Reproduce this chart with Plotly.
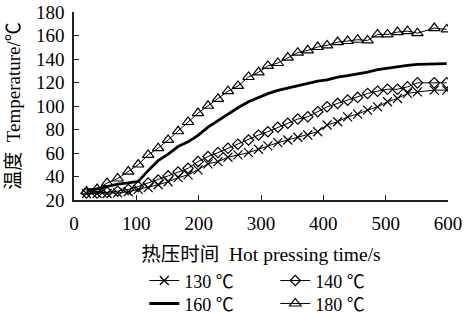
import plotly.graph_objects as go

# Hot pressing time (s)
time_s = [20, 37, 53, 70, 87, 103, 119, 135, 151, 167, 183, 199, 215, 231, 247, 263,
          280, 296, 311, 327, 343, 359, 375, 391, 406, 423, 439, 455, 471, 487, 503,
          519, 535, 551, 578, 598]

# Temperature (℃) for each platen temperature
t130 = [25.5, 25.5, 25.5, 26, 27, 29, 30.5, 33, 35.5, 39, 41.4, 45.7, 50.8, 52.7, 56.4, 58.4,
        60.3, 63.2, 66, 68.8, 71.1, 73.4, 75.3, 78.1, 83.8, 86.6, 90.8, 93.1, 96.5, 99.3, 103.6,
        106.4, 110.7, 112, 113.5, 113.5]
t140 = [26, 26, 26.5, 27.5, 29, 31.5, 34.4, 37, 40.5, 43.8, 47, 52.7, 57, 60.3, 64, 67.5,
        71.1, 75.3, 78.1, 81.9, 85.3, 88.9, 90.8, 95.1, 99.3, 102.2, 105, 107.3, 110.7, 112.6, 114.3,
        114.3, 116.3, 119.7, 119.7, 119.7]
t160 = [28.7, 29.3, 31.5, 33.5, 34.5, 35.8, 45, 53.5, 59, 65.5, 69.5, 75, 82, 87.5, 93.5, 98.5,
        103.6, 107.3, 110.5, 113.3, 115.2, 117.5, 119.5, 121.2, 122.2, 124.5, 125.8, 127, 128.8, 131, 132.3,
        133.6, 134.5, 135.5, 135.5, 136]
t180 = [27.3, 29.3, 34.4, 38.3, 44.2, 50.2, 58.4, 64.1, 71.1, 78.5, 86.4, 94, 100.2, 106.1, 112.6, 117.1,
        124.7, 128.7, 134.1, 136.6, 141.2, 145.4, 147.4, 150.2, 151.6, 154.4, 155.3, 156.4, 155.8, 160.9, 160.9,
        162.9, 163.7, 162, 166.3, 165.2]

x_ticks = [0, 100, 200, 300, 400, 500, 600]
y_ticks = [20, 40, 60, 80, 100, 120, 140, 160, 180]

FONT = "Liberation Serif, Times New Roman, Noto Sans CJK SC, serif"

fig = go.Figure()
fig.add_trace(go.Scatter(x=time_s, y=t130, name="130 ℃", mode="lines+markers",
                         line=dict(color="black", width=1),
                         marker=dict(symbol="x-thin", size=9, color="black",
                                     line=dict(color="black", width=1.2)),
                         legend="legend"))
fig.add_trace(go.Scatter(x=time_s, y=t140, name="140 ℃", mode="lines+markers",
                         line=dict(color="black", width=1),
                         marker=dict(symbol="diamond-open", size=8, color="black",
                                     line=dict(color="black", width=1.2)),
                         legend="legend"))
fig.add_trace(go.Scatter(x=time_s, y=t160, name="160 ℃", mode="lines",
                         line=dict(color="black", width=2.8),
                         legend="legend2"))
fig.add_trace(go.Scatter(x=time_s, y=t180, name="180 ℃", mode="lines+markers",
                         line=dict(color="black", width=1),
                         marker=dict(symbol="triangle-up-open", size=10, color="black",
                                     line=dict(color="black", width=1.2)),
                         legend="legend2"))

axis_common = dict(showline=True, linecolor="#222", linewidth=1.5, ticks="inside",
                   ticklen=5, tickwidth=1.2, tickcolor="#222", showgrid=False,
                   zeroline=False, mirror=False, automargin=False,
                   tickfont=dict(family=FONT, size=19, color="black"))

fig.update_layout(
    width=465, height=313,
    margin=dict(l=74, r=17, t=12, b=113, autoexpand=False),
    paper_bgcolor="white", plot_bgcolor="white",
    font=dict(family=FONT, color="black"),
    xaxis=dict(range=[0, 600], tickvals=x_ticks, ticklabelstandoff=5,
               title=dict(text="热压时间  Hot pressing time/s",
                          font=dict(family=FONT, size=19.5, color="black"), standoff=15),
               **axis_common),
    yaxis=dict(range=[20, 180], tickvals=y_ticks, ticklabelstandoff=4,
               title=dict(text="温度  Temperature/℃",
                          font=dict(family=FONT, size=19, color="black"), standoff=10),
               **axis_common),
    legend=dict(orientation="h", x=0.188, xanchor="left", y=-0.43, yanchor="middle",
                entrywidth=86, entrywidthmode="pixels", itemwidth=30,
                font=dict(family=FONT, size=18, color="black"),
                bgcolor="rgba(0,0,0,0)", tracegroupgap=0),
    legend2=dict(orientation="h", x=0.188, xanchor="left", y=-0.552, yanchor="middle",
                 entrywidth=86, entrywidthmode="pixels", itemwidth=30,
                 font=dict(family=FONT, size=18, color="black"),
                 bgcolor="rgba(0,0,0,0)", tracegroupgap=0),
    showlegend=True,
)

fig.write_html("out.html", config={"displayModeBar": False},
               post_script="document.body.style.margin='0';")
